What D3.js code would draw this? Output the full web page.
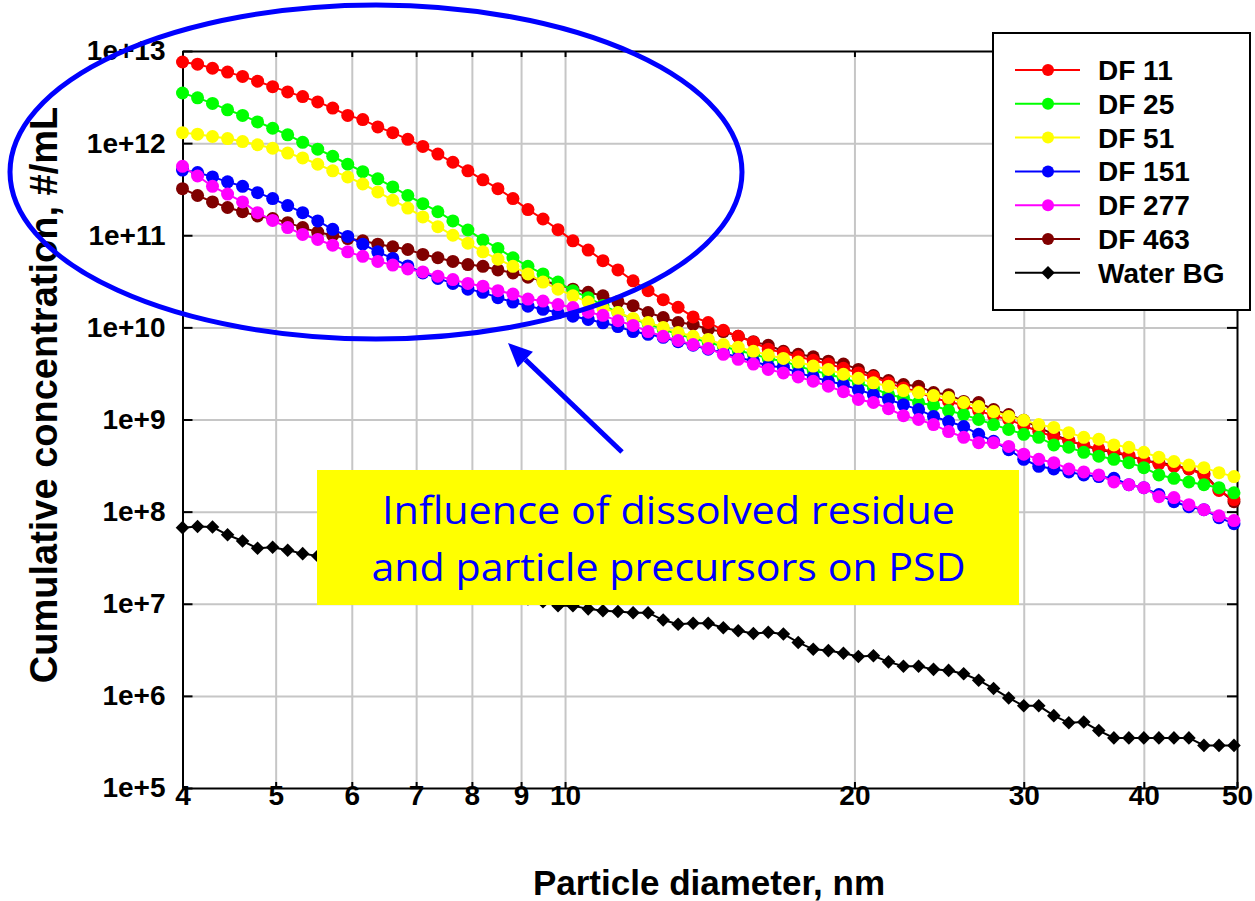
<!DOCTYPE html>
<html>
<head>
<meta charset="utf-8">
<script src="https://cdn.jsdelivr.net/npm/d3@7"></script>
<style>
  body { margin: 0; background: #fff; }
  svg { display: block; font-family: "Liberation Sans", Arial, sans-serif; }
</style>
</head>
<body>
<svg id="chart"></svg>
<script>
// particle diameter bins, nm (64 channels per decade)
let diameters = [4.000,4.147,4.298,4.456,4.619,4.788,4.964,5.146,5.334,5.530,5.732,5.942,6.160,6.386,6.619,6.862,7.113,7.374,7.644,7.924,8.214,8.515,8.827,9.150,9.486,9.833,10.19,10.57,10.95,11.35,11.77,12.20,12.65,13.11,13.59,14.09,14.61,15.14,15.70,16.27,16.87,17.48,18.12,18.79,19.48,20.19,20.93,21.70,22.49,23.32,24.17,25.06,25.98,26.93,27.91,28.94,30.00,31.10,32.24,33.42,34.64,35.91,37.23,38.59,40.00,41.47,42.99,44.56,46.19,47.89,49.64]

// cumulative concentration, #/mL
let df11 = [7.6e12,7.2e12,6.5e12,5.9e12,5.3e12,4.7e12,4.1e12,3.6e12,3.2e12,2.8e12,2.4e12,2.0e12,1.8e12,1.5e12,1.3e12,1.1e12,9.2e11,7.6e11,6.2e11,5.0e11,4.0e11,3.2e11,2.5e11,1.9e11,1.5e11,1.15e11,8.7e10,6.9e10,5.3e10,4.2e10,3.2e10,2.5e10,2.0e10,1.65e10,1.3e10,1.13e10,9.3e9,8.0e9,6.9e9,5.8e9,5.3e9,4.8e9,4.4e9,4.0e9,3.6e9,3.2e9,2.9e9,2.5e9,2.2e9,2.0e9,1.7e9,1.57e9,1.42e9,1.25e9,1.1e9,1.0e9,8.6e8,7.4e8,6.5e8,5.9e8,5.3e8,4.8e8,4.5e8,4.1e8,3.6e8,3.3e8,3.1e8,2.9e8,2.5e8,1.7e8,1.35e8]
let df25 = [3.5e12,3.1e12,2.7e12,2.3e12,2.0e12,1.7e12,1.45e12,1.23e12,1.02e12,8.6e11,7.2e11,5.9e11,4.9e11,4.1e11,3.35e11,2.7e11,2.2e11,1.8e11,1.43e11,1.14e11,8.9e10,7.2e10,5.7e10,4.6e10,3.8e10,3.1e10,2.5e10,2.1e10,1.73e10,1.45e10,1.22e10,1.1e10,9.5e9,8.4e9,7.6e9,6.9e9,6.2e9,5.6e9,5.1e9,4.6e9,4.3e9,3.8e9,3.4e9,3.1e9,2.8e9,2.5e9,2.2e9,1.86e9,1.73e9,1.53e9,1.42e9,1.25e9,1.13e9,1.0e9,8.8e8,7.8e8,6.9e8,6.4e8,5.3e8,5.0e8,4.4e8,4.0e8,3.7e8,3.4e8,3.0e8,2.5e8,2.3e8,2.1e8,1.96e8,1.82e8,1.6e8]
let df51 = [1.3e12,1.25e12,1.18e12,1.12e12,1.04e12,9.6e11,8.8e11,7.8e11,6.9e11,5.9e11,5.0e11,4.3e11,3.6e11,2.95e11,2.4e11,1.97e11,1.58e11,1.24e11,1.0e11,8.2e10,6.6e10,5.5e10,4.6e10,3.8e10,3.1e10,2.6e10,2.2e10,1.88e10,1.61e10,1.45e10,1.25e10,1.13e10,1.0e10,8.8e9,8.0e9,7.4e9,6.5e9,6.1e9,5.5e9,5.0e9,4.6e9,4.2e9,3.8e9,3.5e9,3.1e9,2.8e9,2.5e9,2.3e9,2.06e9,1.96e9,1.82e9,1.73e9,1.53e9,1.38e9,1.22e9,1.08e9,9.8e8,8.8e8,8.2e8,7.2e8,6.4e8,6.1e8,5.3e8,5.0e8,4.4e8,3.9e8,3.5e8,3.2e8,3.0e8,2.65e8,2.4e8]
let df151 = [5.1e11,4.8e11,4.3e11,3.8e11,3.4e11,2.9e11,2.5e11,2.1e11,1.76e11,1.43e11,1.16e11,9.7e10,8.0e10,6.6e10,5.6e10,4.65e10,3.9e10,3.4e10,3.0e10,2.6e10,2.4e10,2.1e10,1.88e10,1.7e10,1.57e10,1.44e10,1.32e10,1.22e10,1.12e10,1.02e10,9.0e9,8.4e9,7.8e9,7.0e9,6.4e9,5.8e9,5.3e9,4.7e9,4.3e9,3.8e9,3.7e9,3.2e9,2.9e9,2.6e9,2.4e9,2.1e9,1.86e9,1.65e9,1.45e9,1.28e9,1.08e9,9.5e8,8.4e8,6.9e8,5.8e8,4.7e8,3.7e8,3.1e8,2.9e8,2.7e8,2.5e8,2.4e8,2.3e8,1.96e8,1.82e8,1.53e8,1.28e8,1.13e8,1.05e8,8.6e7,7.4e7]
let df277 = [5.6e11,4.4e11,3.4e11,2.8e11,2.3e11,1.76e11,1.45e11,1.21e11,1.02e11,9.0e10,7.8e10,6.6e10,5.9e10,5.2e10,4.75e10,4.3e10,4.0e10,3.6e10,3.3e10,3.0e10,2.8e10,2.5e10,2.3e10,2.03e10,1.93e10,1.77e10,1.64e10,1.46e10,1.35e10,1.18e10,1.05e10,9.0e9,8.0e9,7.2e9,6.5e9,5.9e9,5.1e9,4.5e9,4.0e9,3.5e9,3.2e9,2.9e9,2.6e9,2.3e9,2.0e9,1.65e9,1.53e9,1.31e9,1.1e9,1.0e9,8.8e8,7.4e8,6.4e8,5.6e8,5.6e8,5.1e8,4.2e8,3.7e8,3.4e8,2.9e8,2.7e8,2.5e8,2.1e8,1.96e8,1.82e8,1.45e8,1.42e8,1.19e8,1.05e8,9.0e7,8.0e7]
let df463 = [3.2e11,2.7e11,2.3e11,2.0e11,1.8e11,1.62e11,1.52e11,1.37e11,1.21e11,1.08e11,1.0e11,9.2e10,8.7e10,8.0e10,7.5e10,7.0e10,6.2e10,5.7e10,5.2e10,4.8e10,4.6e10,4.2e10,3.9e10,3.5e10,3.2e10,2.9e10,2.6e10,2.4e10,2.2e10,1.9e10,1.72e10,1.45e10,1.28e10,1.13e10,1.08e10,9.5e9,9.0e9,8.0e9,7.0e9,6.4e9,5.5e9,5.1e9,4.8e9,4.3e9,4.0e9,3.5e9,3.0e9,2.65e9,2.4e9,2.3e9,1.96e9,1.86e9,1.57e9,1.53e9,1.28e9,1.13e9,9.8e8,8.2e8,6.9e8,5.9e8,5.2e8,4.7e8,4.4e8,4.0e8,3.6e8,3.4e8,3.2e8,2.9e8,2.6e8,1.73e8,1.28e8]
let waterBG = [6.7e7,6.9e7,6.8e7,5.6e7,4.8e7,4.0e7,4.1e7,3.8e7,3.5e7,3.3e7,3.1e7,2.9e7,2.65e7,2.4e7,2.2e7,2.06e7,1.9e7,1.77e7,1.65e7,1.53e7,1.42e7,1.31e7,1.22e7,1.13e7,1.05e7,9.5e6,9.5e6,8.8e6,8.4e6,8.25e6,8.0e6,8.0e6,6.65e6,6.0e6,6.15e6,6.15e6,5.5e6,5.1e6,4.75e6,4.9e6,4.7e6,3.8e6,3.2e6,3.1e6,2.9e6,2.67e6,2.72e6,2.34e6,2.1e6,2.1e6,1.94e6,1.89e6,1.74e6,1.48e6,1.2e6,9.5e5,7.8e5,7.8e5,6.1e5,5.1e5,5.2e5,4.2e5,3.5e5,3.5e5,3.5e5,3.5e5,3.5e5,3.5e5,2.9e5,2.9e5,2.9e5]

let seriesNames = ['DF 11', 'DF 25', 'DF 51', 'DF 151', 'DF 277', 'DF 463', 'Water BG']
let seriesColors = ['#ff0000', '#00ff00', '#ffff00', '#0000ff', '#ff00ff', '#800000', '#000000']
let seriesValues = [df11, df25, df51, df151, df277, df463, waterBG]
let drawOrder = [6, 5, 0, 1, 3, 2, 4]

let xTicks = [4, 5, 6, 7, 8, 9, 10, 20, 30, 40, 50]
let xGrid = [5, 6, 7, 8, 9, 10, 20, 30, 40]
let yTicks = [1e5, 1e6, 1e7, 1e8, 1e9, 1e10, 1e11, 1e12, 1e13]

let width = 1255
let height = 901
let plotLeft = 182.5, plotRight = 1237, plotTop = 51, plotBottom = 788

let svg = d3.select('#chart').attr('width', width).attr('height', height)
svg.append('rect').attr('width', width).attr('height', height).attr('fill', '#fff')

let xScale = d3.scaleLog().domain([4, 50]).range([plotLeft, plotRight])
let yScale = d3.scaleLog().domain([1e5, 1e13]).range([plotBottom, plotTop])

// grid
let gx = svg.append('g')
    .attr('transform', 'translate(0,' + plotBottom + ')')
    .call(d3.axisBottom(xScale).tickValues(xGrid).tickSize(-(plotBottom - plotTop)).tickFormat(''))
gx.select('.domain').remove()
gx.selectAll('line').attr('stroke', '#c6c6c6').attr('stroke-width', 2)

let gy = svg.append('g')
    .attr('transform', 'translate(' + plotLeft + ',0)')
    .call(d3.axisLeft(yScale).tickValues(yTicks.slice(1, -1)).tickSize(-(plotRight - plotLeft)).tickFormat(''))
gy.select('.domain').remove()
gy.selectAll('line').attr('stroke', '#c6c6c6').attr('stroke-width', 2)

// frame axes, ticks pointing inward
let styleAxis = (g) => {
    g.attr('font-family', null).attr('font-size', null)
    g.selectAll('.domain').attr('stroke', '#000').attr('stroke-width', 2)
    g.selectAll('.tick line').attr('stroke', '#000').attr('stroke-width', 2)
    g.selectAll('text')
        .attr('font-family', '"Liberation Sans", Arial, sans-serif')
        .attr('font-size', 28)
        .attr('font-weight', 'bold')
        .attr('fill', '#000')
}

let yAxisLeft = svg.append('g')
    .attr('transform', 'translate(' + plotLeft + ',0)')
    .call(d3.axisLeft(yScale).tickValues(yTicks).tickSize(-10).tickSizeOuter(0).tickPadding(17)
        .tickFormat(d => '1e+' + Math.round(Math.log10(d))))
styleAxis(yAxisLeft)

let yAxisRight = svg.append('g')
    .attr('transform', 'translate(' + plotRight + ',0)')
    .call(d3.axisRight(yScale).tickValues(yTicks).tickSize(-10).tickSizeOuter(0).tickFormat(''))
styleAxis(yAxisRight)

let xAxisBottom = svg.append('g')
    .attr('transform', 'translate(0,' + plotBottom + ')')
    .call(d3.axisBottom(xScale).tickValues(xTicks).tickSize(-6).tickSizeOuter(0)
        .tickFormat(d3.format('d')))
styleAxis(xAxisBottom)
xAxisBottom.selectAll('text').attr('y', 17).attr('dy', 0)

let xAxisTop = svg.append('g')
    .attr('transform', 'translate(0,' + plotTop + ')')
    .call(d3.axisTop(xScale).tickValues(xTicks).tickSize(-6).tickSizeOuter(0).tickFormat(''))
styleAxis(xAxisTop)

// series
let line = d3.line()
    .x((d, i) => xScale(diameters[i]))
    .y(d => yScale(d))

let diamond = d3.symbol().type(d3.symbolSquare).size(92)

drawOrder.forEach((s) => {
    let g = svg.append('g').attr('class', 'series')
    g.append('path')
        .datum(seriesValues[s])
        .attr('d', line)
        .attr('fill', 'none')
        .attr('stroke', seriesColors[s])
        .attr('stroke-width', 2)
    if (s == 6) {
        g.selectAll('path.pt')
            .data(seriesValues[s])
            .enter()
            .append('path')
            .attr('class', 'pt')
            .attr('d', diamond)
            .attr('transform', (d, i) => 'translate(' + xScale(diameters[i]) + ',' + yScale(d) + ') rotate(45)')
            .attr('fill', '#000')
    } else {
        g.selectAll('circle')
            .data(seriesValues[s])
            .enter()
            .append('circle')
            .attr('cx', (d, i) => xScale(diameters[i]))
            .attr('cy', d => yScale(d))
            .attr('r', 6.5)
            .attr('fill', seriesColors[s])
    }
})

// axis titles
svg.append('text')
    .attr('x', 709).attr('y', 895)
    .attr('text-anchor', 'middle')
    .attr('font-size', 35).attr('font-weight', 'bold')
    .text('Particle diameter, nm')

svg.append('text')
    .attr('transform', 'translate(57,395) rotate(-90)')
    .attr('text-anchor', 'middle')
    .attr('font-size', 38).attr('font-weight', 'bold')
    .text('Cumulative concentration, #/mL')

// legend
let legend = svg.append('g')
legend.append('rect')
    .attr('x', 993).attr('y', 33).attr('width', 257).attr('height', 277)
    .attr('fill', '#fff').attr('stroke', '#000').attr('stroke-width', 2)

seriesNames.forEach((name, i) => {
    let ly = 70 + i * 33.8
    legend.append('line')
        .attr('x1', 1015).attr('x2', 1080).attr('y1', ly).attr('y2', ly)
        .attr('stroke', seriesColors[i]).attr('stroke-width', 2)
    if (i == 6) {
        legend.append('path')
            .attr('d', diamond)
            .attr('transform', 'translate(1048,' + ly + ') rotate(45)')
            .attr('fill', '#000')
    } else {
        legend.append('circle')
            .attr('cx', 1048).attr('cy', ly).attr('r', 6)
            .attr('fill', seriesColors[i])
    }
    legend.append('text')
        .attr('x', 1098).attr('y', ly + 10)
        .attr('font-size', 28).attr('font-weight', 'bold')
        .text(name)
})

// annotation
svg.append('ellipse')
    .attr('cx', 376).attr('cy', 172).attr('rx', 366).attr('ry', 167)
    .attr('fill', 'none').attr('stroke', '#0000ff').attr('stroke-width', 5)

let tail = [622, 452], tip = [508, 343]
let dx = tip[0] - tail[0], dy = tip[1] - tail[1]
let len = Math.sqrt(dx * dx + dy * dy)
let ux = dx / len, uy = dy / len
let headLen = 24, headHalf = 11
let base = [tip[0] - ux * headLen, tip[1] - uy * headLen]
svg.append('line')
    .attr('x1', tail[0]).attr('y1', tail[1]).attr('x2', base[0]).attr('y2', base[1])
    .attr('stroke', '#0000ff').attr('stroke-width', 5)
svg.append('path')
    .attr('d', 'M' + tip[0] + ',' + tip[1] +
        'L' + (base[0] - uy * headHalf) + ',' + (base[1] + ux * headHalf) +
        'L' + (base[0] + uy * headHalf) + ',' + (base[1] - ux * headHalf) + 'Z')
    .attr('fill', '#0000ff')

svg.append('rect')
    .attr('x', 317).attr('y', 470).attr('width', 702).attr('height', 135)
    .attr('fill', '#ffff00')

let noteLines = ['Influence of dissolved residue', 'and particle precursors on PSD']
let noteX = [668.5, 668.5]
let noteY = [524, 581]
let noteW = [573, 594]
noteLines.forEach((t, i) => {
    svg.append('text')
        .attr('x', noteX[i]).attr('y', noteY[i])
        .attr('text-anchor', 'middle')
        .attr('font-family', '"Open Sans", "Noto Sans", sans-serif')
        .attr('font-size', 39)
        .attr('fill', '#0000ff')
        .attr('textLength', noteW[i])
        .attr('lengthAdjust', 'spacingAndGlyphs')
        .text(t)
})
</script>
</body>
</html>
